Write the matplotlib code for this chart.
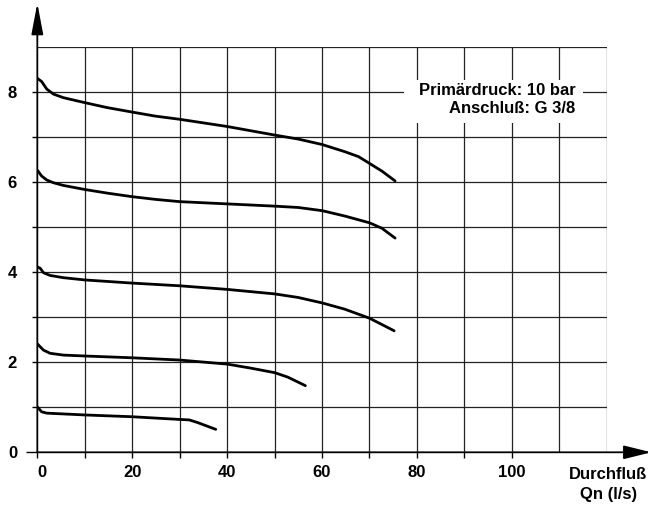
import matplotlib
matplotlib.use('Agg')
import matplotlib.pyplot as plt
from matplotlib.patches import Rectangle

plt.rcParams['font.family'] = ['Liberation Sans', 'DejaVu Sans']
plt.rcParams['font.weight'] = 'bold'

# pressure curves (x = flow l/s, y = outlet pressure bar)
c1_x = [0, 0.9, 2.0, 3.4, 5.5, 10, 14.7, 20, 24.9, 30, 40, 50, 55, 60, 64.8, 67.7, 70, 72.6, 75.4]
c1_y = [8.31, 8.24, 8.07, 7.96, 7.88, 7.77, 7.66, 7.56, 7.47, 7.40, 7.24, 7.05, 6.96, 6.84, 6.68, 6.57, 6.42, 6.25, 6.03]
c2_x = [0, 0.9, 2.0, 3.4, 5.5, 10, 14.7, 20, 24.9, 30, 40, 50, 55, 60, 64.8, 70, 72.6, 75.4]
c2_y = [6.27, 6.14, 6.05, 5.99, 5.93, 5.84, 5.76, 5.68, 5.62, 5.57, 5.52, 5.47, 5.44, 5.37, 5.25, 5.10, 4.98, 4.76]
c3_x = [0, 0.6, 1.3, 2.7, 5.5, 10, 20, 30, 40, 50, 55, 60, 64.8, 70, 75.2]
c3_y = [4.12, 4.09, 3.99, 3.93, 3.88, 3.83, 3.76, 3.70, 3.62, 3.52, 3.44, 3.32, 3.18, 2.98, 2.70]
c4_x = [0, 1.3, 2.7, 5.5, 10, 20, 30, 40, 45, 50, 52.8, 56.5]
c4_y = [2.41, 2.27, 2.20, 2.16, 2.14, 2.10, 2.05, 1.96, 1.87, 1.77, 1.67, 1.48]
c5_x = [0, 0.9, 2.0, 10, 20, 30, 32.0, 33.8, 37.6]
c5_y = [1.01, 0.90, 0.87, 0.83, 0.79, 0.73, 0.72, 0.66, 0.51]
curves = [(c1_x, c1_y), (c2_x, c2_y), (c3_x, c3_y), (c4_x, c4_y), (c5_x, c5_y)]

grid_x = list(range(10, 130, 10))
grid_y = list(range(1, 10))
xticks = list(range(0, 110, 10))
xlabels = ['0', '', '20', '', '40', '', '60', '', '80', '', '100']
yticks = list(range(0, 9))
ylabels = ['0', '', '2', '', '4', '', '6', '', '8']

fig = plt.figure(figsize=(6.48, 5.09), dpi=100)
ax = fig.add_axes([0.0576, 0.1114, 0.8787, 0.7957])
ax.set_xlim(0, 120)
ax.set_ylim(0, 9)
for s in ax.spines.values():
    s.set_visible(False)

for gx in grid_x:
    ax.axvline(gx, color='#222222', lw=0.9, zorder=1)
for gy in grid_y:
    ax.axhline(gy, color='#222222', lw=0.9, zorder=1)

# white label box over grid
ax.add_patch(Rectangle((77.2, 7.31), 37.8, 0.96, facecolor='white',
                       edgecolor='none', zorder=2))
ax.text(113.4, 7.93, 'Primärdruck: 10 bar', ha='right', va='baseline',
        fontsize=12, fontweight='bold', zorder=3)
ax.text(113.4, 7.53, 'Anschluß: G 3/8', ha='right', va='baseline',
        fontsize=12, fontweight='bold', zorder=3)

for cx, cy in curves:
    ax.plot(cx, cy, color='black', lw=2.0, solid_capstyle='round',
            solid_joinstyle='round', zorder=4)

# axes with arrows
ax.annotate('', xy=(129.4, 0), xytext=(0, 0), annotation_clip=False,
            arrowprops=dict(arrowstyle='-|>,head_length=17,head_width=4.2',
                            mutation_scale=1, lw=1.3, color='black',
                            shrinkA=0, shrinkB=0))
ax.annotate('', xy=(0, 9.98), xytext=(0, 0), annotation_clip=False,
            arrowprops=dict(arrowstyle='-|>,head_length=19,head_width=3.6',
                            mutation_scale=1, lw=1.3, color='black',
                            shrinkA=0, shrinkB=0))

ax.set_xticks(xticks)
ax.set_xticklabels(xlabels)
ax.set_yticks(yticks)
ax.set_yticklabels(ylabels)
ax.tick_params(axis='x', length=4.5, width=1.0, pad=5, labelsize=12)
ax.tick_params(axis='y', length=3.6, width=1.0, pad=11, labelsize=12)
ax.yaxis.get_major_ticks()[0].tick1line.set_markersize(8)
ax.get_xticklabels()[0].set_horizontalalignment('left')

ax.text(120.3, -0.593, 'Durchfluß', ha='center', va='baseline',
        fontsize=12, fontweight='bold', clip_on=False)
ax.text(120.3, -1.037, 'Qn (l/s)', ha='center', va='baseline',
        fontsize=12, fontweight='bold', clip_on=False)

fig.savefig('out.png', dpi=100)
